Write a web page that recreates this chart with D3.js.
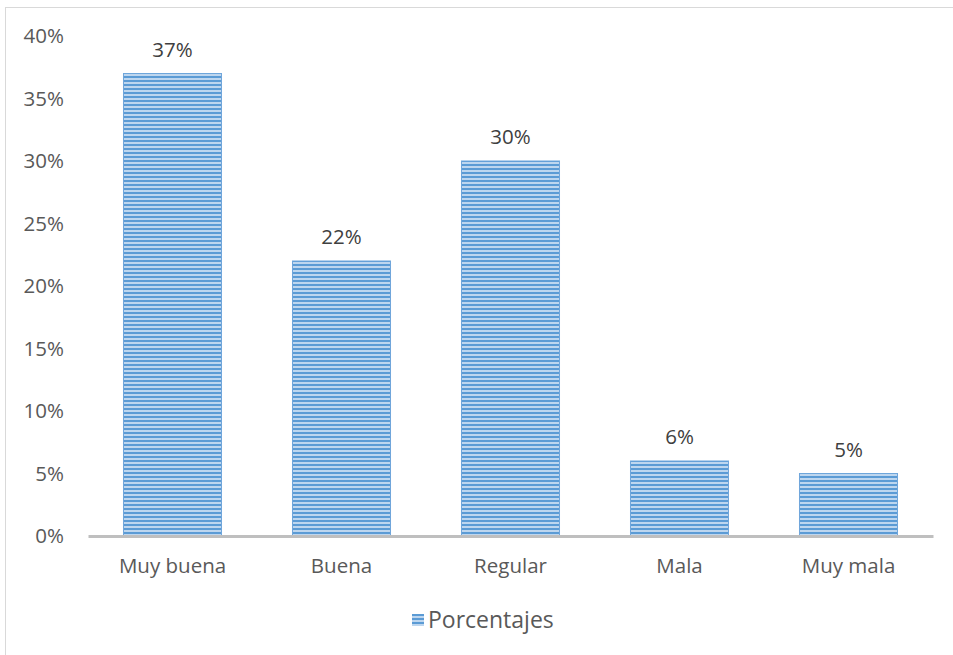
<!DOCTYPE html>
<html>
<head>
<meta charset="utf-8">
<script src="https://cdn.jsdelivr.net/npm/d3@7"></script>
<style>
  html, body { margin: 0; padding: 0; background: #fff; }
  svg { display: block; font-family: "Open Sans", "Noto Sans", sans-serif; }
</style>
</head>
<body>
<svg id="chart" width="953" height="655"></svg>
<script>
// Survey ratings and share of responses
const categories = ["Muy buena", "Buena", "Regular", "Mala", "Muy mala"];
const porcentajes = [37, 22, 30, 6, 5];
const yTicks = [0, 5, 10, 15, 20, 25, 30, 35, 40];
const seriesName = "Porcentajes";

const FONT = "'Open Sans', 'Noto Sans', sans-serif";
const LABEL_SIZE = 20.5;
const svg = d3.select("#chart");

// frame
svg.append("rect")
  .attr("x", 5.5).attr("y", 7.5)
  .attr("width", 960).attr("height", 660)
  .attr("fill", "#fff").attr("stroke", "#d9d9d9").attr("stroke-width", 1);

// horizontal stripe fill
const defs = svg.append("defs");
const pat = defs.append("pattern")
  .attr("id", "stripes")
  .attr("patternUnits", "userSpaceOnUse")
  .attr("width", 8).attr("height", 4);
pat.append("rect").attr("width", 8).attr("height", 4).attr("fill", "#bdd6ef");
pat.append("rect").attr("width", 8).attr("height", 2).attr("fill", "#5b9bd5");

const plot = { left: 88, right: 933, top: 36, bottom: 536 };

const x = d3.scaleBand()
  .domain(categories)
  .range([plot.left, plot.right])
  .paddingInner(0.42)
  .paddingOuter(0.21);

const y = d3.scaleLinear()
  .domain([0, 40])
  .range([plot.bottom, plot.top]);

// bars
svg.append("g").selectAll("rect")
  .data(porcentajes)
  .join("rect")
  .attr("x", (d, i) => x(categories[i]))
  .attr("y", d => y(d))
  .attr("width", x.bandwidth())
  .attr("height", d => y(0) - y(d))
  .attr("fill", "url(#stripes)")
  .attr("stroke", "#6fa6db")
  .attr("stroke-width", 1);

// value labels
svg.append("g").selectAll("text")
  .data(porcentajes)
  .join("text")
  .attr("x", (d, i) => x(categories[i]) + x.bandwidth() / 2)
  .attr("y", d => y(d) - 17)
  .attr("text-anchor", "middle")
  .attr("font-size", LABEL_SIZE)
  .attr("font-family", FONT)
  .attr("fill", "#404040")
  .text(d => d + "%");

// y axis labels
const yAxis = d3.axisLeft(y)
  .tickValues(yTicks)
  .tickFormat(d => d + "%")
  .tickSize(0)
  .tickPadding(24);
const gy = svg.append("g")
  .attr("transform", `translate(${plot.left},0)`)
  .call(yAxis);
gy.select(".domain").remove();
gy.selectAll("text")
  .attr("font-size", LABEL_SIZE)
  .attr("fill", "#595959")
  .attr("font-family", FONT);

// x axis
const xAxis = d3.axisBottom(x).tickSize(0).tickPadding(22);
const gx = svg.append("g")
  .attr("transform", `translate(0,${plot.bottom})`)
  .call(xAxis);
gx.select(".domain")
  .attr("stroke", "#bfbfbf")
  .attr("stroke-width", 3);
gx.selectAll("text")
  .attr("font-size", LABEL_SIZE)
  .attr("fill", "#595959")
  .attr("font-family", FONT);

// legend
const legend = svg.append("g").attr("transform", "translate(412,614)");
legend.append("rect")
  .attr("width", 12).attr("height", 12)
  .attr("fill", "url(#stripes)");
legend.append("text")
  .attr("x", 16).attr("y", 14)
  .attr("font-size", 23)
  .attr("font-family", FONT)
  .attr("fill", "#595959")
  .text(seriesName);
</script>
</body>
</html>
